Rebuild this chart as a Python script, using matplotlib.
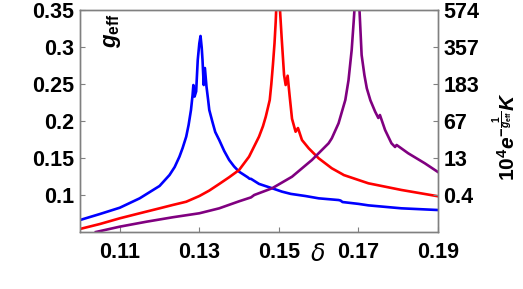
import matplotlib
matplotlib.use("Agg")
import matplotlib.pyplot as plt

plt.rcParams['font.family'] = ['Liberation Sans', 'DejaVu Sans']
plt.rcParams['mathtext.fontset'] = 'custom'
plt.rcParams['mathtext.rm'] = 'Liberation Sans:bold'
plt.rcParams['mathtext.it'] = 'Liberation Sans:bold:italic'
plt.rcParams['mathtext.bf'] = 'Liberation Sans:bold'

# Data (delta, g_eff)
blue_x = [0.1000, 0.1050, 0.1100, 0.1150, 0.1200, 0.1225, 0.1238, 0.1250, 0.1258,
          0.1267, 0.1273, 0.1279, 0.1283, 0.1285, 0.1288, 0.1292, 0.1296, 0.1300,
          0.1303, 0.1306, 0.1308, 0.1311, 0.1314, 0.1318, 0.1322, 0.1325, 0.1333,
          0.1340, 0.1350, 0.13625, 0.1375, 0.13875, 0.1400, 0.1422, 0.1426, 0.1430,
          0.1450, 0.1483, 0.1508, 0.1530, 0.1567, 0.1600, 0.1650, 0.1655, 0.1660,
          0.1700, 0.1725, 0.1808, 0.1900]
blue_y = [0.0662, 0.0743, 0.0828, 0.0955, 0.1122, 0.1270, 0.1378, 0.1518, 0.1635,
          0.1788, 0.1946, 0.2149, 0.2350, 0.2486, 0.2330, 0.2400, 0.2824, 0.3050,
          0.3149, 0.2990, 0.2824, 0.2486, 0.2716, 0.2464, 0.2290, 0.2149, 0.1986,
          0.1851, 0.1743, 0.1595, 0.1473, 0.1385, 0.1315, 0.1238, 0.1220, 0.1218,
          0.1150, 0.1091, 0.1045, 0.1015, 0.0986, 0.0955, 0.0932, 0.0925, 0.0905,
          0.0880, 0.0860, 0.0820, 0.0797]

red_x = [0.1000, 0.1050, 0.1100, 0.1150, 0.1200, 0.1233, 0.1267, 0.1300, 0.1325,
         0.1350, 0.1375, 0.1400, 0.1425, 0.1450, 0.1460, 0.1467, 0.1472, 0.1477,
         0.1481, 0.1485, 0.1489, 0.1492, 0.1497, 0.1502, 0.1507, 0.1513, 0.1517,
         0.1522, 0.1527, 0.1533, 0.1542, 0.1548, 0.1558, 0.1575, 0.1600, 0.1633,
         0.1660, 0.1663, 0.1700, 0.1725, 0.1808, 0.1900]
red_y = [0.0541, 0.0608, 0.0685, 0.0753, 0.0820, 0.0865, 0.0909, 0.0986, 0.1060,
         0.1149, 0.1240, 0.1338, 0.1518, 0.1788, 0.1930, 0.2058, 0.2170, 0.2284,
         0.2500, 0.2760, 0.3050, 0.3342, 0.4000, 0.3570, 0.3122, 0.2622, 0.2486,
         0.2612, 0.2340, 0.2030, 0.1855, 0.1905, 0.1743, 0.1631, 0.1496, 0.1361,
         0.1280, 0.1270, 0.1203, 0.1158, 0.1068, 0.0983]

purple_x = [0.1040, 0.1100, 0.1167, 0.1233, 0.1300, 0.1350, 0.1400, 0.1430, 0.1438,
            0.1483, 0.1533, 0.1583, 0.1625, 0.1633, 0.1650, 0.1667, 0.1675, 0.1683,
            0.1688, 0.1696, 0.1702, 0.1708, 0.1715, 0.1721, 0.1730, 0.1742, 0.1750,
            0.1754, 0.1767, 0.1783, 0.1792, 0.1796, 0.1825, 0.1867, 0.1900]
purple_y = [0.0500, 0.0572, 0.0639, 0.0699, 0.0753, 0.0820, 0.0915, 0.0968, 0.1000,
            0.1091, 0.1247, 0.1473, 0.1699, 0.1766, 0.1969, 0.2284, 0.2550, 0.2960,
            0.3342, 0.4000, 0.3570, 0.2892, 0.2620, 0.2442, 0.2280, 0.2126, 0.2041,
            0.2081, 0.1878, 0.1699, 0.1649, 0.1676, 0.1564, 0.1428, 0.1310]

x_ticks = [0.11, 0.13, 0.15, 0.17, 0.19]
x_ticklabels = ["0.11", "0.13", "0.15", "0.17", "0.19"]
y_ticks = [0.10, 0.15, 0.20, 0.25, 0.30, 0.35]
y_ticklabels = ["0.1", "0.15", "0.2", "0.25", "0.3", "0.35"]
right_ticklabels = ["0.4", "13", "67", "183", "357", "574"]

fig = plt.figure(figsize=(5.23, 2.89), dpi=100)
ax = fig.add_axes([80/523, 1-232/289, 358/523, 222/289])

lw = 1.9
ax.plot(blue_x, blue_y, color='#0000ff', lw=lw, solid_joinstyle='round')
ax.plot(red_x, red_y, color='#ff0000', lw=lw, solid_joinstyle='round')
ax.plot(purple_x, purple_y, color='#800080', lw=lw, solid_joinstyle='round')

ax.set_xlim(0.10, 0.19)
ax.set_ylim(0.05, 0.35)

gray = '#808080'
for s in ax.spines.values():
    s.set_color(gray)
    s.set_linewidth(1.0)

fs = 15.5
ax.set_xticks(x_ticks)
ax.set_xticklabels(x_ticklabels)
ax.set_yticks(y_ticks)
ax.set_yticklabels(y_ticklabels)
ax.tick_params(direction='in', length=3.5, width=0.8, color=gray, labelsize=fs)
ax.tick_params(axis='x', pad=7)
ax.tick_params(axis='y', pad=4)
for lab in ax.get_xticklabels() + ax.get_yticklabels():
    lab.set_fontweight('bold')

ax2 = ax.twinx()
ax2.set_ylim(0.05, 0.35)
ax2.set_yticks(y_ticks)
ax2.set_yticklabels(right_ticklabels)
ax2.tick_params(direction='in', length=3.5, width=0.8, color=gray, labelsize=fs, pad=4)
for lab in ax2.get_yticklabels():
    lab.set_fontweight('bold')
for s in ax2.spines.values():
    s.set_color(gray)
    s.set_linewidth(1.0)

ax.text(0.09, 0.905, r'$g_{\rm eff}$', transform=ax.transAxes, rotation=90,
        ha='center', va='center', fontsize=16)

fig.text(317.5/523, 1-254/289, 'δ', ha='center', va='center', fontsize=17,
         style='italic', family='DejaVu Sans')

fig.text(505/523, 1-136/289, r'$10^4 e^{-\frac{1}{g_{\rm eff}}} K$', rotation=90,
         ha='center', va='center', fontsize=15)

fig.savefig('out.png', dpi=100)
